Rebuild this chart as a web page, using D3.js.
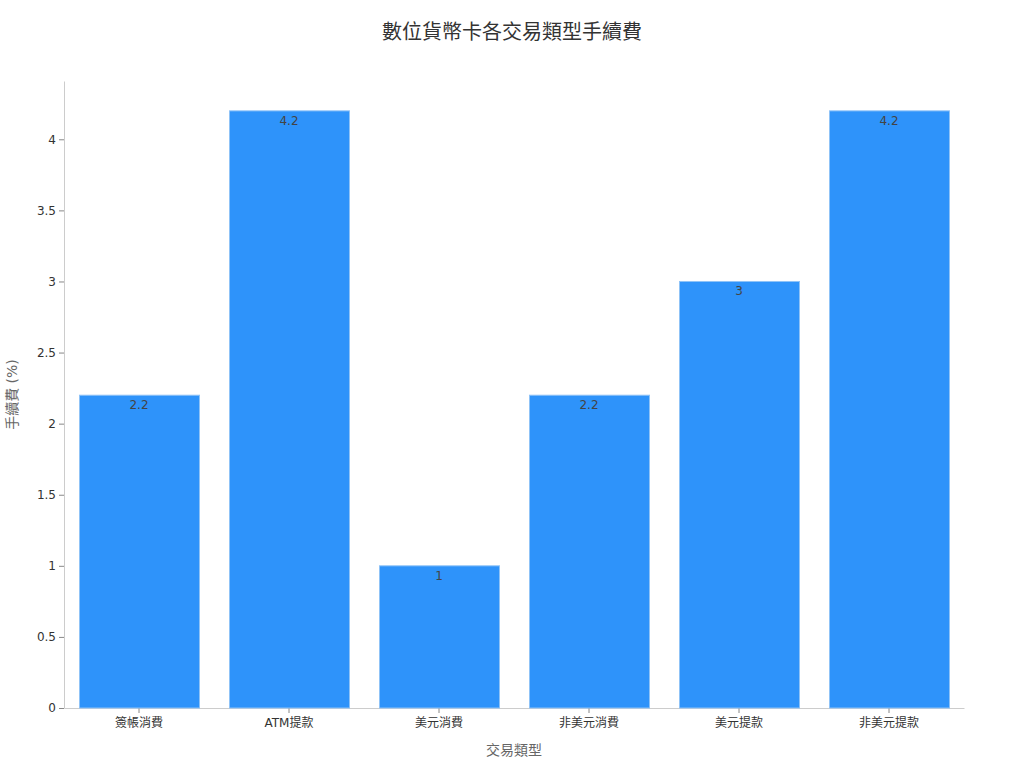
<!DOCTYPE html>
<html><head><meta charset="utf-8">
<script src="https://cdn.jsdelivr.net/npm/d3@7"></script>
<style>
body{margin:0;background:#fff;}
text{font-family:"DejaVu Sans","Noto Sans CJK TC",sans-serif;}
</style></head><body>
<svg id="c" width="1024" height="768"></svg>
<script>
const categories = ["簽帳消費","ATM提款","美元消費","非美元消費","美元提款","非美元提款"];
const fees = [2.2, 4.2, 1, 2.2, 3, 4.2];
const yTicks = [0,0.5,1,1.5,2,2.5,3,3.5,4];
const title = "數位貨幣卡各交易類型手續費";
const xTitle = "交易類型";
const yTitle = "手續費 (%)";

const svg = d3.select("#c");
const m = {l:64, r:60, t:81, b:60};
const W = 1024, H = 768;
const x = d3.scaleBand().domain(categories).range([m.l, W - m.r]).paddingInner(0.2).paddingOuter(0.1);
const y = d3.scaleLinear().domain([0, 4.41]).range([H - m.b, m.t]);

svg.append("text").attr("x", 512).attr("y", 39).attr("text-anchor","middle")
  .attr("font-size", 20).attr("fill","#333").text(title);

const xa = svg.append("g").attr("transform", `translate(0,${H-m.b})`)
  .call(d3.axisBottom(x).tickSize(5).tickSizeOuter(0));
xa.select(".domain").attr("stroke","#ccc");
xa.selectAll(".tick line").attr("stroke","#888");
xa.selectAll(".tick text").attr("font-size",12).attr("fill","#333").attr("dy","0.9em");

const ya = svg.append("g").attr("transform", `translate(${m.l},0)`)
  .call(d3.axisLeft(y).tickValues(yTicks).tickFormat(d3.format("~g")).tickSize(5).tickSizeOuter(0));
ya.select(".domain").attr("stroke","#ccc");
ya.selectAll(".tick line").attr("stroke","#888");
ya.selectAll(".tick text").attr("font-size",12).attr("fill","#333");

svg.append("g").selectAll("rect").data(fees).join("rect")
  .attr("x", (d,i)=>x(categories[i]) + 0.5).attr("width", x.bandwidth())
  .attr("y", d=>y(d)).attr("height", d=>y(0)-y(d))
  .attr("fill","#2E93FA").attr("stroke","#8fc3f7").attr("stroke-width",1);

svg.append("g").selectAll("text").data(fees).join("text")
  .attr("x", (d,i)=>x(categories[i]) + x.bandwidth()/2).attr("y", d=>y(d)+14)
  .attr("text-anchor","middle").attr("font-size",12).attr("fill","#444")
  .text(d=>d3.format("~g")(d));

svg.append("text").attr("x", (m.l + W - m.r)/2).attr("y", 755).attr("text-anchor","middle")
  .attr("font-size",14).attr("fill","#666").text(xTitle);
svg.append("text").attr("transform", `translate(17,${(m.t + H - m.b)/2}) rotate(-90)`)
  .attr("text-anchor","middle").attr("font-size",14).attr("fill","#666").text(yTitle);
</script></body></html>
